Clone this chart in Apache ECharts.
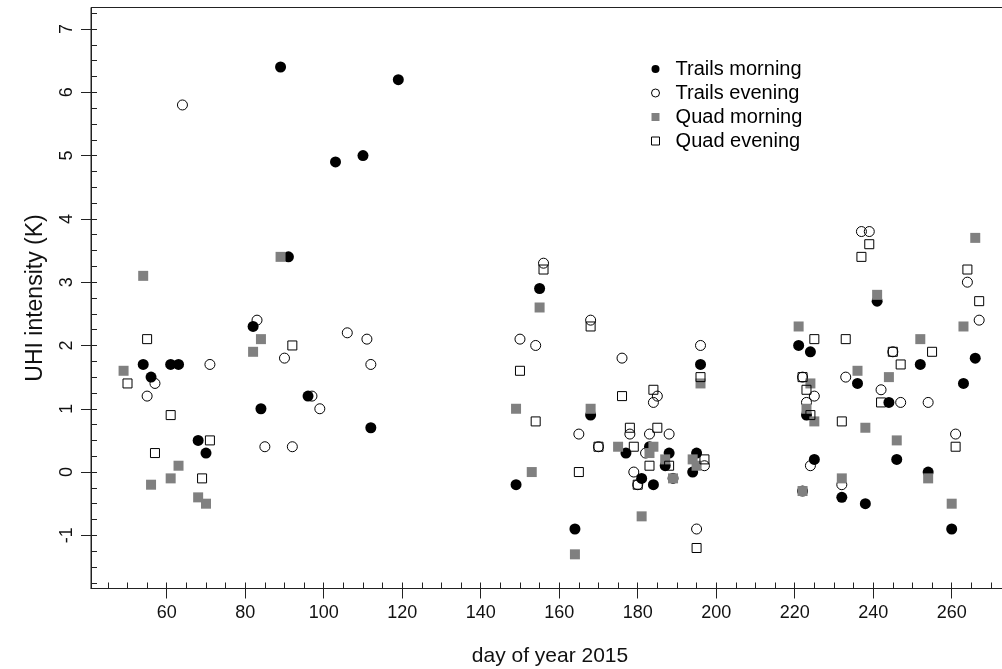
<!DOCTYPE html>
<html>
<head>
<meta charset="utf-8">
<script src="https://cdn.jsdelivr.net/npm/echarts@6/dist/echarts.min.js"></script>
<style>
  html, body { margin: 0; padding: 0; background: #fff; }
  #chart { width: 1002px; height: 669px; }
</style>
</head>
<body>
<div id="chart"></div>
<script>
// [day of year, UHI intensity (K)]
const trailsMorning = [
  [89, 6.4], [119, 6.2], [103, 4.9], [110, 5.0], [91, 3.4], [82, 2.3], [112, 0.7],
  [54, 1.7], [61, 1.7], [63, 1.7], [56, 1.5], [96, 1.2], [84, 1.0], [68, 0.5], [70, 0.3],
  [155, 2.9], [196, 1.7], [168, 0.9], [177, 0.3], [183, 0.4], [188, 0.3], [187, 0.1],
  [181, -0.1], [184, -0.2], [149, -0.2], [164, -0.9], [195, 0.3], [194, 0.0],
  [266, 1.8], [241, 2.7], [221, 2.0], [224, 1.9], [252, 1.7], [263, 1.4], [236, 1.4],
  [244, 1.1], [223, 0.9], [225, 0.2], [246, 0.2], [254, 0.0], [222, -0.3], [232, -0.4],
  [238, -0.5], [260, -0.9]
];
const trailsEvening = [
  [64, 5.8], [83, 2.4], [90, 1.8], [106, 2.2], [111, 2.1], [112, 1.7], [71, 1.7],
  [57, 1.4], [55, 1.2], [97, 1.2], [99, 1.0], [85, 0.4], [92, 0.4],
  [156, 3.3], [168, 2.4], [150, 2.1], [154, 2.0], [176, 1.8], [196, 2.0], [185, 1.2],
  [184, 1.1], [165, 0.6], [178, 0.6], [183, 0.6], [188, 0.6], [170, 0.4], [182, 0.3],
  [189, -0.1], [179, 0.0], [180, -0.2], [195, -0.9], [197, 0.1],
  [237, 3.8], [239, 3.8], [264, 3.0], [267, 2.4], [245, 1.9], [222, 1.5], [233, 1.5],
  [242, 1.3], [247, 1.1], [254, 1.1], [225, 1.2], [223, 1.1], [261, 0.6], [224, 0.1],
  [232, -0.2]
];
const quadMorning = [
  [89, 3.4], [54, 3.1], [84, 2.1], [82, 1.9], [49, 1.6], [63, 0.1], [61, -0.1],
  [56, -0.2], [68, -0.4], [70, -0.5],
  [155, 2.6], [196, 1.4], [149, 1.0], [168, 1.0], [175, 0.4], [184, 0.4], [183, 0.3],
  [187, 0.2], [189, -0.1], [153, 0.0], [181, -0.7], [164, -1.3], [194, 0.2], [195, 0.1],
  [266, 3.7], [241, 2.8], [221, 2.3], [263, 2.3], [252, 2.1], [236, 1.6], [244, 1.5],
  [224, 1.4], [223, 1.0], [225, 0.8], [238, 0.7], [246, 0.5], [254, -0.1], [232, -0.1],
  [222, -0.3], [260, -0.5]
];
const quadEvening = [
  [55, 2.1], [50, 1.4], [92, 2.0], [61, 0.9], [71, 0.5], [57, 0.3], [69, -0.1],
  [156, 3.2], [168, 2.3], [196, 1.5], [150, 1.6], [176, 1.2], [184, 1.3], [154, 0.8],
  [178, 0.7], [185, 0.7], [170, 0.4], [179, 0.4], [188, 0.1], [183, 0.1], [180, -0.2],
  [165, 0.0], [195, -1.2], [197, 0.2],
  [239, 3.6], [237, 3.4], [264, 3.2], [267, 2.7], [225, 2.1], [233, 2.1], [255, 1.9],
  [245, 1.9], [247, 1.7], [222, 1.5], [223, 1.3], [242, 1.1], [224, 0.9], [232, 0.8],
  [261, 0.4]
];

const seriesNames = ['Trails morning', 'Trails evening', 'Quad morning', 'Quad evening'];
const xTickLabels = [60, 80, 100, 120, 140, 160, 180, 200, 220, 240, 260];
const yTickLabels = [-1, 0, 1, 2, 3, 4, 5, 6, 7];

// minor ticks (every 5 days / every 0.25 K)
const xMinor = [];
for (let d = 45; d <= 270; d += 5) xMinor.push(d);
const yMinor = [];
for (let v = -1.75; v <= 7.25; v += 0.25) yMinor.push(+v.toFixed(2));

const FONT = 'Liberation Sans';
const X_MIN = 40.7, X_MAX = 274.6;
const Y_MIN = -1.84, Y_MAX = 7.34;

const chart = echarts.init(document.getElementById('chart'), null, { renderer: 'canvas' });

function baseX(extra) {
  return Object.assign({
    type: 'value', min: X_MIN, max: X_MAX, position: 'bottom',
    splitLine: { show: false }
  }, extra);
}
function baseY(extra) {
  return Object.assign({
    type: 'value', min: Y_MIN, max: Y_MAX, position: 'left',
    splitLine: { show: false }
  }, extra);
}

const option = {
  animation: false,
  backgroundColor: '#fff',
  // the plot box runs past the right edge of the picture
  grid: {
    left: 91, top: 7.5, width: 918, height: 581,
    outerBoundsMode: 'none', containLabel: false,
    show: true, borderColor: '#222', borderWidth: 1
  },
  legend: {
    orient: 'vertical',
    left: 651, top: 57, padding: 0,
    itemWidth: 8, itemHeight: 8, itemGap: 0,
    textStyle: { fontFamily: FONT, fontSize: 20, color: '#000', lineHeight: 24 },
    formatter: function(name) { return '  ' + name; },
    data: [
      { name: seriesNames[0], icon: 'circle', itemStyle: { color: '#000', borderWidth: 0 } },
      { name: seriesNames[1], icon: 'circle', itemStyle: { color: '#fff', borderColor: '#000', borderWidth: 1 } },
      { name: seriesNames[2], icon: 'rect', itemStyle: { color: '#808080', borderWidth: 0 } },
      { name: seriesNames[3], icon: 'rect', itemStyle: { color: '#fff', borderColor: '#000', borderWidth: 1 } }
    ]
  },
  xAxis: [
    baseX({
      name: 'day of year 2015', nameLocation: 'middle', nameGap: 57,
      nameTextStyle: { fontFamily: FONT, fontSize: 21, color: '#111' },
      axisLine: { show: true, onZero: false, lineStyle: { color: '#222', width: 1 } },
      axisTick: { show: true, inside: false, length: 10, lineStyle: { color: '#222' }, customValues: xTickLabels },
      axisLabel: { show: true, margin: 16, fontFamily: FONT, fontSize: 18, color: '#111', customValues: xTickLabels }
    }),
    baseX({
      axisLine: { show: false, onZero: false },
      axisTick: { show: true, inside: true, length: 6, lineStyle: { color: '#222' }, customValues: xMinor },
      axisLabel: { show: false }
    })
  ],
  yAxis: [
    baseY({
      name: 'UHI intensity (K)', nameLocation: 'middle', nameGap: 44, nameRotate: 90,
      nameTextStyle: { fontFamily: FONT, fontSize: 23, color: '#111' },
      axisLine: { show: true, onZero: false, lineStyle: { color: '#222', width: 1 } },
      axisTick: { show: true, inside: false, length: 10, lineStyle: { color: '#222' }, customValues: yTickLabels },
      axisLabel: { show: true, rotate: 90, margin: 15, fontFamily: FONT, fontSize: 18, color: '#111', customValues: yTickLabels }
    }),
    baseY({
      axisLine: { show: false, onZero: false },
      axisTick: { show: true, inside: true, length: 6, lineStyle: { color: '#222' }, customValues: yMinor },
      axisLabel: { show: false }
    })
  ],
  series: [
    {
      name: seriesNames[0], type: 'scatter', symbol: 'circle', symbolSize: 11,
      itemStyle: { color: '#000', opacity: 1 },
      data: trailsMorning
    },
    {
      name: seriesNames[1], type: 'scatter', symbol: 'circle', symbolSize: 10,
      itemStyle: { color: 'transparent', borderColor: '#000', borderWidth: 1, opacity: 1 },
      data: trailsEvening
    },
    {
      name: seriesNames[2], type: 'scatter', symbol: 'rect', symbolSize: 10,
      itemStyle: { color: '#808080', opacity: 1 },
      data: quadMorning
    },
    {
      name: seriesNames[3], type: 'scatter', symbol: 'rect', symbolSize: 9,
      itemStyle: { color: 'transparent', borderColor: '#000', borderWidth: 1, opacity: 1 },
      data: quadEvening
    }
  ]
};

chart.setOption(option);

window.addEventListener('resize', function() {
  if (chart) chart.resize();
});
</script>
</body>
</html>
